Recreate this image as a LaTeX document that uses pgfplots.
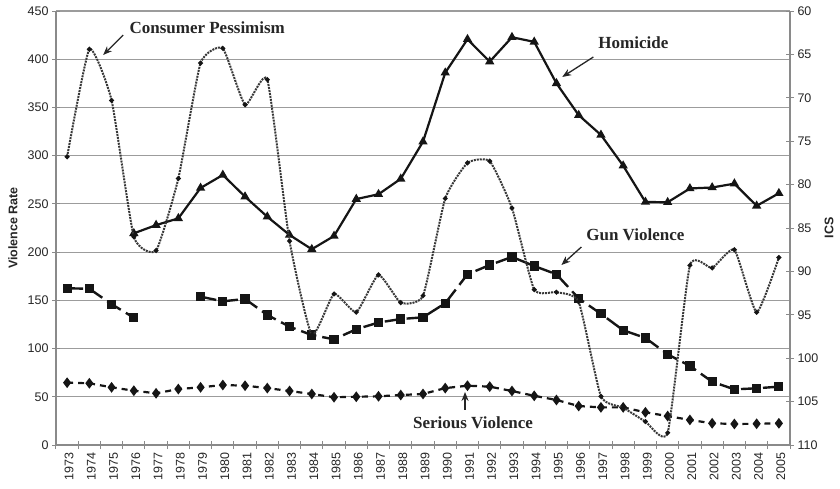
\documentclass[border=0pt]{standalone}
\usepackage{fontspec}
\setmainfont{Liberation Sans}
\newfontfamily\annfont{Liberation Serif}
\usepackage{pgfplots}
\pgfplotsset{compat=1.18}
\usetikzlibrary{arrows.meta}
\definecolor{gridc}{HTML}{9C9C9C}
\definecolor{axc}{HTML}{8A8A8A}
\definecolor{ink}{HTML}{151515}
\definecolor{txt}{HTML}{262626}
\pgfplotsset{
  common/.style={
    at={(0,0)}, anchor=south west,
    scale only axis, width=734pt, height=434pt,
    xmin=1972.5, xmax=2005.5,
    tick align=center, major tick length=8pt, minor tick length=8pt,
    tick style={axc, line width=1pt},
    axis line style={axc, line width=1.2pt, -},
    /pgf/number format/assume math mode=true,
    /pgf/number format/1000 sep={},
    tick label style={font=\fontsize{12.5}{12.5}\selectfont, text=txt},
    unbounded coords=jump,
    clip=false,
  }
}
\begin{document}
\begin{tikzpicture}
\path[use as bounding box] (-56pt,-43pt) rectangle (784pt,445pt);
\begin{axis}[common,
  ymin=0, ymax=450,
  axis y line*=left, axis x line*=bottom,
  xtick={1973,1974,...,2005},
  major x tick style={draw=none},
  minor xtick={1972.5,1973.5,...,2005.5},
  x tick label style={rotate=90, anchor=east, yshift=-2pt},
  ytick={0,50,...,450},
  ymajorgrids, grid style={gridc, line width=1.2pt},
  every axis y label/.style={at={(axis description cs:0,0.5)}, xshift=-35pt, rotate=90, anchor=south, font=\bfseries\fontsize{12.5}{12.5}\selectfont, text=txt},
  ylabel={Violence Rate},
]
% Homicide
\addplot[ink, line width=2.2pt, mark=triangle*, mark size=3.2pt, mark options={solid}] coordinates {
(1976,219.5)(1977,228)(1978,235)(1979,266.5)(1980,280)(1981,257.5)(1982,236.7)(1983,217.8)(1984,203)(1985,216.7)(1986,255)(1987,260)(1988,276)(1989,314.5)(1990,386)(1991,420.7)(1992,397.5)(1993,422.8)(1994,418)(1995,375)(1996,342)(1997,321.5)(1998,289.6)(1999,252)(2000,251.7)(2001,266)(2002,267)(2003,271)(2004,248)(2005,261)
};
% Gun violence
\addplot[ink, line width=2.4pt, dash pattern=on 16pt off 6pt, mark=square*, mark size=3.4pt, mark options={solid}] coordinates {
(1973,162.5)(1974,162)(1975,146)(1976,132)(1977,nan)(1978,nan)(1979,153.8)(1980,149)(1981,151.4)(1982,134.8)(1983,122.7)(1984,114)(1985,109.6)(1986,120)(1987,127)(1988,130.6)(1989,132.4)(1990,147)(1991,177)(1992,186.6)(1993,195)(1994,185.6)(1995,177)(1996,152)(1997,136)(1998,119)(1999,111)(2000,94)(2001,82)(2002,65.6)(2003,57.7)(2004,58.8)(2005,60.5)
};
% Serious violence
\addplot[ink, line width=2.2pt, dash pattern=on 6pt off 5pt, mark=diamond*, mark size=3.6pt, mark options={solid}] coordinates {
(1973,64.6)(1974,64)(1975,59.8)(1976,56.3)(1977,53.6)(1978,58)(1979,59.8)(1980,62.2)(1981,61.5)(1982,59)(1983,56)(1984,52.9)(1985,49.5)(1986,50)(1987,50.5)(1988,51.8)(1989,52.9)(1990,59)(1991,61.5)(1992,60.5)(1993,56)(1994,51)(1995,46.7)(1996,40.4)(1997,39)(1998,39)(1999,33.9)(2000,30)(2001,26)(2002,22.5)(2003,21.8)(2004,22)(2005,22.5)
};
% annotations
\node[font=\annfont\bfseries\fontsize{17}{17}\selectfont, text=txt] at (axis cs:1979.3,432.4) {Consumer Pessimism};
\draw[-{Stealth[length=9pt,width=7pt]}, line width=1.3pt, txt] (axis cs:1975.52,425) -- (axis cs:1974.62,404.4);
\node[font=\annfont\bfseries\fontsize{17}{17}\selectfont, text=txt] at (axis cs:1998.46,416.8) {Homicide};
\draw[-{Stealth[length=9pt,width=7pt]}, line width=1.3pt, txt] (axis cs:1996.66,402.3) -- (axis cs:1995.26,381.6);
\node[font=\annfont\bfseries\fontsize{17}{17}\selectfont, text=txt] at (axis cs:1998.55,217.7) {Gun Violence};
\draw[-{Stealth[length=9pt,width=7pt]}, line width=1.3pt, txt] (axis cs:1996.12,205.3) -- (axis cs:1995.22,186.6);
\node[font=\annfont\bfseries\fontsize{17}{17}\selectfont, text=txt] at (axis cs:1991.25,22.8) {Serious Violence};
\draw[-{Stealth[length=9pt,width=7pt]}, line width=1.3pt, txt] (axis cs:1990.89,36.3) -- (axis cs:1990.89,55);
\end{axis}
\begin{axis}[common,
  ymin=60, ymax=110, y dir=reverse,
  axis x line=none, axis y line*=right,
  ytick={60,65,...,110},
  every axis y label/.style={at={(axis description cs:1,0.5)}, xshift=31pt, rotate=90, anchor=north, font=\bfseries\fontsize{12.5}{12.5}\selectfont, text=txt},
  ylabel={ICS},
]
% Consumer pessimism (ICS)
\addplot[ink!85, line width=2pt, densely dotted, smooth, tension=0.3, mark=*, mark size=1.3pt, mark options={solid, ink}] coordinates {
(1973,76.8)(1974,64.4)(1975,70.3)(1976,86.0)(1977,87.6)(1978,79.3)(1979,66.0)(1980,64.3)(1981,70.8)(1982,67.9)(1983,86.5)(1984,97.3)(1985,92.6)(1986,94.7)(1987,90.4)(1988,93.6)(1989,92.8)(1990,81.6)(1991,77.5)(1992,77.3)(1993,82.7)(1994,92.1)(1995,92.4)(1996,93.5)(1997,104.4)(1998,105.7)(1999,107.3)(2000,108.6)(2001,89.3)(2002,89.6)(2003,87.5)(2004,94.7)(2005,88.4)
};
\end{axis}
\end{tikzpicture}
\end{document}
